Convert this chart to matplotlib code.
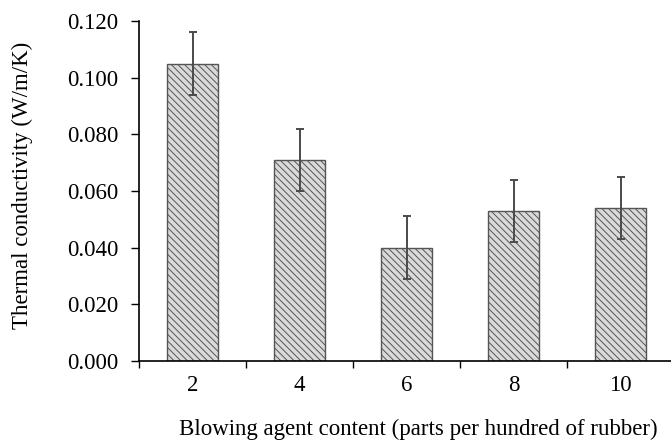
import numpy as np
import matplotlib
matplotlib.use("Agg")
import matplotlib.pyplot as plt
from matplotlib.ticker import FixedLocator

# blowing agent loading (phr) and measured thermal conductivity
categories = ["2", "4", "6", "8", "10"]
conductivity = [0.105, 0.071, 0.040, 0.053, 0.054]
errors = [0.011, 0.011, 0.011, 0.011, 0.011]
yticks = [0.000, 0.020, 0.040, 0.060, 0.080, 0.100, 0.120]

plt.rcParams['font.family'] = ['Liberation Serif', 'DejaVu Serif']
plt.rcParams['hatch.linewidth'] = 0.7

fig = plt.figure(figsize=(6.71, 4.41), dpi=100)
ax = fig.add_axes([139 / 671, 1 - 361 / 441, 535 / 671, 340 / 441])

x = np.arange(1, len(categories) + 1)
ax.bar(x, conductivity, width=0.48, color='#dadada', edgecolor='#555555',
       linewidth=1.0, hatch='\\\\\\\\\\', zorder=2)
ax.errorbar(x, conductivity, yerr=errors, fmt='none', ecolor='#4a4a4a',
            elinewidth=1.4, capsize=3, capthick=1.4, zorder=3)

ax.set_xlim(0.5, len(categories) + 0.5)
ax.set_ylim(0, 0.12)
ax.set_yticks(yticks)
ax.set_yticklabels([f'{v:.3f}' for v in yticks])

ax.set_xticks(x)
ax.set_xticklabels(categories)
# category separators as small outward ticks
ax.xaxis.set_minor_locator(FixedLocator(np.arange(0.5, len(categories) + 1, 1.0)))
ax.tick_params(axis='x', which='major', length=0, pad=10, labelsize=16.5)
ax.tick_params(axis='x', which='minor', length=5, width=1.0, direction='out')
ax.tick_params(axis='y', length=6, width=1.0, direction='out', pad=9, labelsize=16.5)

for side in ('top', 'right'):
    ax.spines[side].set_visible(False)
ax.spines['left'].set_linewidth(1.2)
ax.spines['bottom'].set_linewidth(1.2)

ax.set_xlabel('Blowing agent content (parts per hundred of rubber)', fontsize=16.5)
ax.set_ylabel('Thermal conductivity (W/m/K)', fontsize=16.5)
ax.xaxis.set_label_coords(0.523, -0.17)
ax.yaxis.set_label_coords(-0.198, 0.518)

fig.savefig('out.png', dpi=100)
